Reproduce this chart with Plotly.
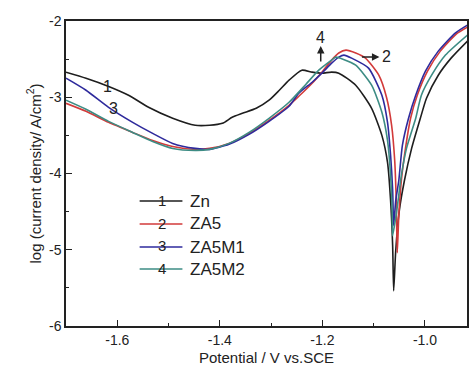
import plotly.graph_objects as go

# Potential (V vs SCE) and log current density for each alloy
zn_x = [-1.700, -1.661, -1.618, -1.578, -1.539, -1.492, -1.448, -1.420, -1.395, -1.376, -1.356,
        -1.329, -1.304, -1.284, -1.265, -1.240, -1.220, -1.201, -1.182, -1.168, -1.135, -1.104,
        -1.084, -1.073, -1.067, -1.063, -1.061, -1.057, -1.050, -1.040, -1.026, -1.009, -0.997,
        -0.974, -0.949, -0.917]
zn_y = [-2.671, -2.750, -2.855, -2.974, -3.132, -3.276, -3.368, -3.368, -3.342, -3.263, -3.211,
        -3.145, -3.039, -2.908, -2.776, -2.645, -2.671, -2.684, -2.671, -2.684, -2.842, -3.145,
        -3.500, -3.855, -4.355, -4.947, -5.539, -5.013, -4.487, -4.092, -3.671, -3.276, -3.013,
        -2.711, -2.487, -2.263]

za5_x = [-1.700, -1.661, -1.617, -1.570, -1.531, -1.492, -1.448, -1.420, -1.382, -1.343, -1.304,
         -1.265, -1.246, -1.220, -1.201, -1.182, -1.168, -1.154, -1.135, -1.116, -1.090, -1.075,
         -1.065, -1.059, -1.056, -1.054, -1.051, -1.046, -1.038, -1.028, -1.015, -0.995, -0.970,
         -0.939, -0.917]
za5_y = [-3.079, -3.184, -3.329, -3.461, -3.566, -3.645, -3.684, -3.671, -3.605, -3.474, -3.303,
         -3.105, -2.987, -2.816, -2.671, -2.513, -2.420, -2.382, -2.420, -2.487, -2.711, -3.000,
         -3.368, -3.829, -4.355, -5.039, -4.553, -4.092, -3.671, -3.276, -2.974, -2.658, -2.395,
         -2.171, -2.079]

za5m1_x = [-1.700, -1.661, -1.617, -1.570, -1.531, -1.492, -1.448, -1.420, -1.382, -1.343, -1.304,
           -1.265, -1.246, -1.220, -1.201, -1.182, -1.168, -1.158, -1.143, -1.110, -1.084, -1.073,
           -1.067, -1.063, -1.061, -1.057, -1.051, -1.044, -1.032, -1.018, -0.999, -0.974, -0.941,
           -0.917]
za5m1_y = [-2.750, -2.908, -3.132, -3.329, -3.474, -3.605, -3.671, -3.684, -3.618, -3.487, -3.316,
           -3.118, -2.947, -2.803, -2.684, -2.553, -2.474, -2.447, -2.487, -2.618, -2.974, -3.329,
           -3.763, -4.224, -4.684, -4.355, -4.092, -3.632, -3.276, -2.974, -2.658, -2.395, -2.158,
           -2.053]

za5m2_x = [-1.700, -1.661, -1.617, -1.570, -1.531, -1.492, -1.448, -1.420, -1.382, -1.343, -1.304,
           -1.265, -1.232, -1.207, -1.182, -1.174, -1.160, -1.135, -1.104, -1.084, -1.073, -1.067,
           -1.064, -1.063, -1.055, -1.046, -1.036, -1.018, -1.007, -0.987, -0.960, -0.917]
za5m2_y = [-3.039, -3.158, -3.316, -3.461, -3.579, -3.671, -3.697, -3.684, -3.605, -3.461, -3.276,
           -3.066, -2.829, -2.645, -2.513, -2.474, -2.500, -2.579, -2.842, -3.197, -3.566, -4.026,
           -4.487, -4.816, -4.487, -4.026, -3.671, -3.276, -2.974, -2.711, -2.447, -2.184]

x_tickvals = [-1.6, -1.4, -1.2, -1.0]
x_ticktext = ["-1.6", "-1.4", "-1.2", "-1.0"]
y_tickvals = [-6, -5, -4, -3, -2]
y_ticktext = ["-6", "-5", "-4", "-3", "-2"]

series = [
    ("Zn", "1", zn_x, zn_y, "#1e1e1e"),
    ("ZA5", "2", za5_x, za5_y, "#d23a3a"),
    ("ZA5M1", "3", za5m1_x, za5m1_y, "#2e2a9c"),
    ("ZA5M2", "4", za5m2_x, za5m2_y, "#3d8c84"),
]

FONT = "Arial, Liberation Sans, sans-serif"
fig = go.Figure()
for name, num, xs, ys, col in series:
    fig.add_trace(go.Scatter(x=xs, y=ys, mode="lines", name=name,
                             line=dict(color=col, width=1.6, shape="spline", smoothing=0.6),
                             showlegend=False))

# plot area in pixels
L, T, R, B = 66, 21, 469, 326
def px(xp):
    return (xp - L) / (R - L)
def py(yp):
    return (B - yp) / (B - T)

def label(x, y, text, size, anchor="center"):
    fig.add_annotation(xref="paper", yref="paper", x=px(x), y=py(y), text=text,
                       xanchor=anchor, yanchor="middle", showarrow=False,
                       font=dict(family=FONT, size=size, color="#222"))

# manual legend
leg_y = [201, 224, 247, 269]
for (name, num, xs, ys, col), yy in zip(series, leg_y):
    fig.add_shape(type="line", xref="paper", yref="paper", x0=px(140), x1=px(183),
                  y0=py(yy), y1=py(yy), line=dict(color=col, width=1.6))
    label(162, yy - 1, num, 15)
    label(189, yy, name, 17, anchor="left")

# curve labels
label(108, 87, "1", 16)
label(114, 109, "3", 16)
label(322, 37, "4", 16)
label(388, 57, "2", 16)
# arrows
fig.add_annotation(xref="paper", yref="paper", axref="pixel", ayref="pixel",
                   x=px(322), y=py(46), ax=0, ay=17, text="", showarrow=True,
                   arrowhead=2, arrowsize=1, arrowwidth=1.5, arrowcolor="#222")
fig.add_annotation(xref="paper", yref="paper", axref="pixel", ayref="pixel",
                   x=px(381), y=py(57), ax=-19, ay=0, text="", showarrow=True,
                   arrowhead=2, arrowsize=1, arrowwidth=1.5, arrowcolor="#222")

fig.update_layout(
    width=469, height=370,
    margin=dict(l=L, r=0, t=T, b=370 - B),
    paper_bgcolor="white", plot_bgcolor="white",
    font=dict(family=FONT, size=14, color="#222"),
    xaxis=dict(range=[-1.7, -0.918], tickvals=x_tickvals, ticktext=x_ticktext,
               ticks="inside", ticklen=6, tickwidth=1.3, tickcolor="#222",
               showline=True, linecolor="#222", linewidth=1.5, mirror=True,
               showgrid=False, zeroline=False,
               minor=dict(dtick=0.1, tick0=-1.6, ticks="inside", ticklen=3, tickcolor="#222"),
               tickfont=dict(size=14),
               title=dict(text="Potential / V vs.SCE", font=dict(size=15), standoff=6)),
    yaxis=dict(range=[-6, -2], tickvals=y_tickvals, ticktext=y_ticktext,
               ticks="inside", ticklen=6, tickwidth=1.3, tickcolor="#222",
               showline=True, linecolor="#222", linewidth=1.5, mirror=True,
               showgrid=False, zeroline=False,
               minor=dict(dtick=0.5, tick0=-6, ticks="inside", ticklen=3, tickcolor="#222"),
               tickfont=dict(size=14),
               title=dict(text="log (current density/ A/cm<sup>2</sup>)", font=dict(size=15), standoff=4)),
)

fig.write_html("out.html")
